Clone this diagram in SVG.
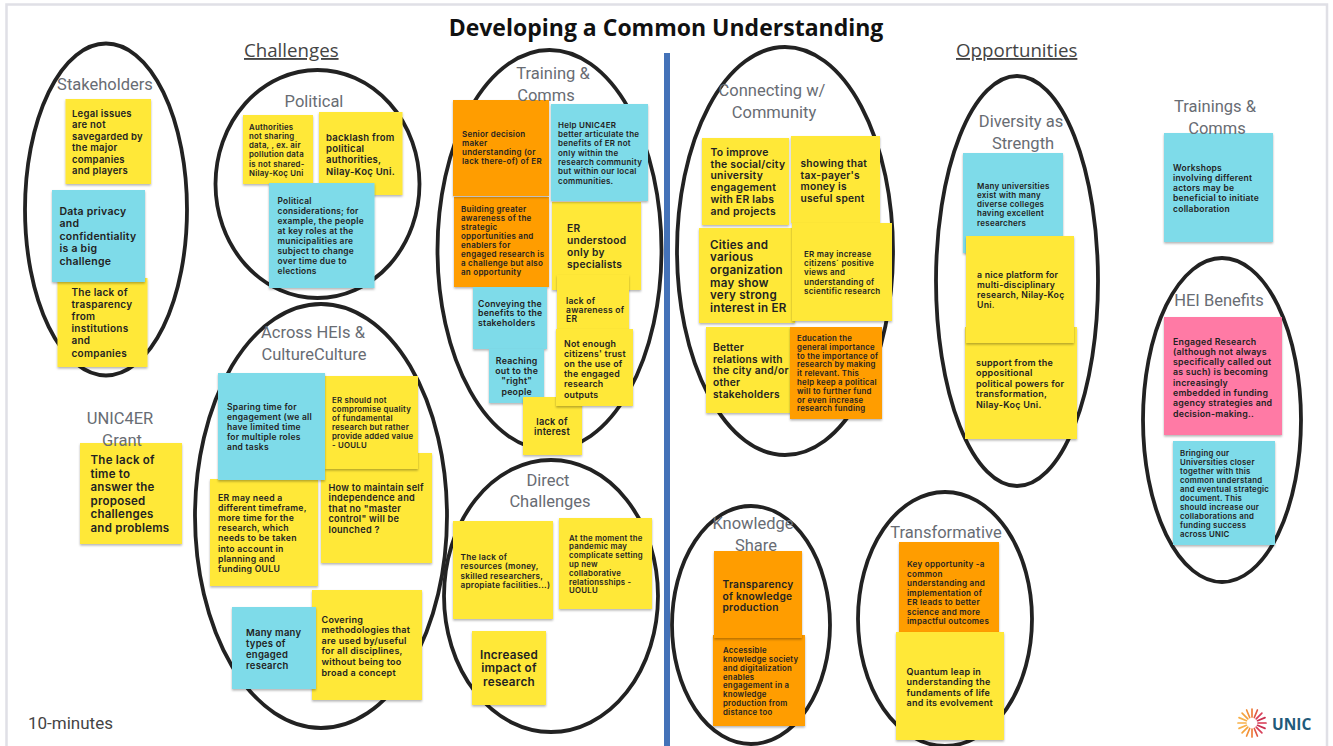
<svg xmlns="http://www.w3.org/2000/svg" width="1333" height="746" viewBox="0 0 1333 746">
<style>
.oval{fill:none;stroke:#222;stroke-width:3.8}
.y{fill:#ffe838;filter:url(#sh)}.b{fill:#7edbe9;filter:url(#sh)}.o{fill:#ff9d00;filter:url(#sh)}.p{fill:#ff7aa5;filter:url(#sh)}
.n{font-family:Inter,"Liberation Sans",sans-serif;font-weight:600;fill:#222;letter-spacing:.25px}
.l{font-family:Roboto,"Liberation Sans",sans-serif;font-size:16.500px;fill:#686c73;text-anchor:middle}
.h{font-family:"Open Sans","Liberation Sans",sans-serif;font-size:18.700px;fill:#444;text-decoration:underline}
.s{stroke-width:1.7;stroke-linecap:round}
</style>
<defs><filter id="sh" x="-10%" y="-10%" width="120%" height="120%"><feDropShadow dx="0" dy="1.5" stdDeviation="1.2" flood-color="#000" flood-opacity=".3"/></filter></defs>
<rect width="1333" height="746" fill="#fff"/>
<path d="M6.500 746V4.500H1327V746" fill="none" stroke="#e0e0e6" stroke-width="2.500"/>
<rect id="divider" x="664" y="53" width="6" height="693" fill="#4472b8"/>
<text id="title" x="666" y="36" text-anchor="middle" font-family="Open Sans,Liberation Sans,sans-serif" font-size="23" font-weight="700" fill="#111">Developing a Common Understanding</text>
<text id="challenges" class="h" x="244" y="57">Challenges</text>
<text id="opportunities" class="h" x="956" y="57">Opportunities</text>
<text id="timer" x="28" y="729" font-family="Roboto,Liberation Sans,sans-serif" font-size="17" fill="#444">10-minutes</text>
<g id="ovals">
<ellipse class="oval" cx="106" cy="209.500" rx="81" ry="166"/>
<ellipse class="oval" cx="317.500" cy="184" rx="102" ry="114"/>
<ellipse class="oval" cx="321" cy="516" rx="126" ry="212"/>
<ellipse class="oval" cx="549.500" cy="250" rx="112" ry="200"/>
<ellipse class="oval" cx="551" cy="596" rx="107" ry="136"/>
<ellipse class="oval" cx="785" cy="251" rx="108" ry="204"/>
<ellipse class="oval" cx="1017" cy="281" rx="81" ry="205"/>
<ellipse class="oval" cx="751" cy="625" rx="79" ry="119"/>
<ellipse class="oval" cx="945" cy="619" rx="87" ry="127"/>
<ellipse class="oval" cx="1222" cy="420" rx="79" ry="162"/>
</g>
<g id="note-s1"><rect class="y" x="65.500" y="99" width="85.500" height="85"/><text class="n" font-size="9.500" y="116.500"><tspan x="72">Legal issues</tspan><tspan x="72" dy="11.500">are not</tspan><tspan x="72" dy="11.500">savegarded by</tspan><tspan x="72" dy="11.500">the major</tspan><tspan x="72" dy="11.500">companies</tspan><tspan x="72" dy="11.500">and players</tspan></text></g>
<g id="note-s3"><rect class="y" x="57.500" y="278" width="90" height="89"/><text class="n" font-size="10" y="296"><tspan x="71.500">The lack of</tspan><tspan x="71.500" dy="12.100">trasparency</tspan><tspan x="71.500" dy="12.100">from</tspan><tspan x="71.500" dy="12.100">institutions</tspan><tspan x="71.500" dy="12.100">and</tspan><tspan x="71.500" dy="12.100">companies</tspan></text></g>
<g id="note-s2"><rect class="b" x="52" y="190" width="93" height="92"/><text class="n" font-size="10.500" y="215"><tspan x="59.500">Data privacy</tspan><tspan x="59.500" dy="12.400">and</tspan><tspan x="59.500" dy="12.400">confidentiality</tspan><tspan x="59.500" dy="12.400">is a big</tspan><tspan x="59.500" dy="12.400">challenge</tspan></text></g>
<g id="note-p2"><rect class="y" x="319" y="112" width="83.500" height="83"/><text class="n" font-size="9.500" y="141"><tspan x="326">backlash from</tspan><tspan x="326" dy="11.200">political</tspan><tspan x="326" dy="11.200">authorities,</tspan><tspan x="326" dy="11.200">Nilay-Koç Uni.</tspan></text></g>
<g id="note-p1"><rect class="y" x="243" y="115" width="70" height="69"/><text class="n" font-size="7.800" y="129.500"><tspan x="249">Authorities</tspan><tspan x="249" dy="9.300">not sharing</tspan><tspan x="249" dy="9.300">data, , ex.  air</tspan><tspan x="249" dy="9.300">pollution data</tspan><tspan x="249" dy="9.300">is not shared-</tspan><tspan x="249" dy="9.300">Nilay-Koç Uni</tspan></text></g>
<g id="note-p3"><rect class="b" x="269" y="183" width="105.500" height="105"/><text class="n" font-size="8.400" y="203.500"><tspan x="277.500">Political</tspan><tspan x="277.500" dy="10.100">considerations; for</tspan><tspan x="277.500" dy="10.100">example, the people</tspan><tspan x="277.500" dy="10.100">at key roles at the</tspan><tspan x="277.500" dy="10.100">municipalities are</tspan><tspan x="277.500" dy="10.100">subject to change</tspan><tspan x="277.500" dy="10.100">over time due to</tspan><tspan x="277.500" dy="10.100">elections</tspan></text></g>
<g id="note-a3"><rect class="y" x="321" y="453" width="111" height="110"/><text class="n" font-size="9.200" y="490.500"><tspan x="328.500">How to maintain self</tspan><tspan x="328.500" dy="10.500">independence and</tspan><tspan x="328.500" dy="10.500">that no "master</tspan><tspan x="328.500" dy="10.500">control" will be</tspan><tspan x="328.500" dy="10.500">lounched ?</tspan></text></g>
<g id="note-a2"><rect class="y" x="325" y="376" width="93" height="93"/><text class="n" font-size="7.800" y="403"><tspan x="332">ER should not</tspan><tspan x="332" dy="9">compromise quality</tspan><tspan x="332" dy="9">of fundamental</tspan><tspan x="332" dy="9">research but rather</tspan><tspan x="332" dy="9">provide added value</tspan><tspan x="332" dy="9">- UOULU</tspan></text></g>
<g id="note-a4"><rect class="y" x="210" y="479" width="108" height="107"/><text class="n" font-size="8.700" y="500.500"><tspan x="218">ER may need a</tspan><tspan x="218" dy="10.200">different timeframe,</tspan><tspan x="218" dy="10.200">more time for the</tspan><tspan x="218" dy="10.200">research, which</tspan><tspan x="218" dy="10.200">needs to be taken</tspan><tspan x="218" dy="10.200">into account in</tspan><tspan x="218" dy="10.200">planning and</tspan><tspan x="218" dy="10.200">funding OULU</tspan></text></g>
<g id="note-a1"><rect class="b" x="218" y="373" width="107" height="107"/><text class="n" font-size="8.500" y="409.500"><tspan x="227">Sparing time for</tspan><tspan x="227" dy="10.200">engagement (we all</tspan><tspan x="227" dy="10.200">have limited time</tspan><tspan x="227" dy="10.200">for multiple roles</tspan><tspan x="227" dy="10.200">and tasks</tspan></text></g>
<g id="note-a6"><rect class="y" x="312" y="590" width="110" height="110"/><text class="n" font-size="9" y="622.500"><tspan x="321.500">Covering</tspan><tspan x="321.500" dy="10.600">methodologies that</tspan><tspan x="321.500" dy="10.600">are used by/useful</tspan><tspan x="321.500" dy="10.600">for all disciplines,</tspan><tspan x="321.500" dy="10.600">without being too</tspan><tspan x="321.500" dy="10.600">broad a concept</tspan></text></g>
<g id="note-a5"><rect class="b" x="232" y="607" width="84" height="82"/><text class="n" font-size="9.500" y="635.500"><tspan x="246">Many many</tspan><tspan x="246" dy="11">types of</tspan><tspan x="246" dy="11">engaged</tspan><tspan x="246" dy="11">research</tspan></text></g>
<g id="note-t4"><rect class="y" x="552" y="202" width="89" height="88"/><text class="n" font-size="10.200" y="232"><tspan x="567">ER</tspan><tspan x="567" dy="12">understood</tspan><tspan x="567" dy="12">only by</tspan><tspan x="567" dy="12">specialists</tspan></text></g>
<g id="note-t2"><rect class="b" x="551" y="104" width="97" height="97"/><text class="n" font-size="8" y="127.500"><tspan x="558">Help UNIC4ER</tspan><tspan x="558" dy="9.350">better articulate the</tspan><tspan x="558" dy="9.350">benefits of ER not</tspan><tspan x="558" dy="9.350">only within the</tspan><tspan x="558" dy="9.350">research community</tspan><tspan x="558" dy="9.350">but within our local</tspan><tspan x="558" dy="9.350">communities.</tspan></text></g>
<g id="note-t3"><rect class="o" x="454" y="197" width="95" height="90"/><text class="n" font-size="8" y="211.500"><tspan x="461">Building greater</tspan><tspan x="461" dy="9.100">awareness of the</tspan><tspan x="461" dy="9.100">strategic</tspan><tspan x="461" dy="9.100">opportunities and</tspan><tspan x="461" dy="9.100">enablers for</tspan><tspan x="461" dy="9.100">engaged research is</tspan><tspan x="461" dy="9.100">a challenge but also</tspan><tspan x="461" dy="9.100">an opportunity</tspan></text></g>
<g id="note-t1"><rect class="o" x="453" y="100" width="96" height="96"/><text class="n" font-size="8" y="137"><tspan x="462">Senior decision</tspan><tspan x="462" dy="9.100">maker</tspan><tspan x="462" dy="9.100">understanding (or</tspan><tspan x="462" dy="9.100">lack there-of) of ER</tspan></text></g>
<g id="note-t5"><rect class="b" x="473" y="287" width="74" height="62"/><text class="n" font-size="8.700" y="306.500"><tspan x="478">Conveying the</tspan><tspan x="478" dy="9.800">benefits to the</tspan><tspan x="478" dy="9.800">stakeholders</tspan></text></g>
<g id="note-t6"><rect class="y" x="557" y="275" width="72" height="55"/><text class="n" font-size="8.500" y="304"><tspan x="566">lack of</tspan><tspan x="566" dy="9.200">awareness of</tspan><tspan x="566" dy="9.200">ER</tspan></text></g>
<g id="note-t7"><rect class="b" x="489" y="349" width="55" height="54"/><text class="n" font-size="8.800" y="363.500" text-anchor="middle"><tspan x="516.700">Reaching</tspan><tspan x="516.700" dy="10.400">out to the</tspan><tspan x="516.700" dy="10.400">"right"</tspan><tspan x="516.700" dy="10.400">people</tspan></text></g>
<g id="note-t9"><rect class="y" x="523" y="397" width="59" height="58"/><text class="n" font-size="9.200" y="424.500" text-anchor="middle"><tspan x="552">lack of</tspan><tspan x="552" dy="10.700">interest</tspan></text></g>
<g id="note-t8"><rect class="y" x="556" y="329" width="77" height="77"/><text class="n" font-size="8.800" y="346.500"><tspan x="564">Not enough</tspan><tspan x="564" dy="10.200">citizens' trust</tspan><tspan x="564" dy="10.200">on the use of</tspan><tspan x="564" dy="10.200">the engaged</tspan><tspan x="564" dy="10.200">research</tspan><tspan x="564" dy="10.200">outputs</tspan></text></g>
<g id="note-d1"><rect class="y" x="453" y="521" width="100" height="98"/><text class="n" font-size="8.200" y="559.500"><tspan x="460.500">The lack of</tspan><tspan x="460.500" dy="9.500">resources (money,</tspan><tspan x="460.500" dy="9.500">skilled researchers,</tspan><tspan x="460.500" dy="9.500">apropiate facilities...)</tspan></text></g>
<g id="note-d2"><rect class="y" x="559" y="518" width="93" height="91"/><text class="n" font-size="7.800" y="540.500"><tspan x="569">At the moment the</tspan><tspan x="569" dy="8.800">pandemic may</tspan><tspan x="569" dy="8.800">complicate setting</tspan><tspan x="569" dy="8.800">up new</tspan><tspan x="569" dy="8.800">collaborative</tspan><tspan x="569" dy="8.800">relationsships -</tspan><tspan x="569" dy="8.800">UOULU</tspan></text></g>
<g id="note-d3"><rect class="y" x="472" y="631" width="74" height="74"/><text class="n" font-size="11.700" y="658.500" text-anchor="middle"><tspan x="509">Increased</tspan><tspan x="509" dy="13.800">impact of</tspan><tspan x="509" dy="13.800">research</tspan></text></g>
<g id="note-c2"><rect class="y" x="791" y="136" width="89" height="87"/><text class="n" font-size="10.200" y="167"><tspan x="800.500">showing that</tspan><tspan x="800.500" dy="11.700">tax-payer's</tspan><tspan x="800.500" dy="11.700">money is</tspan><tspan x="800.500" dy="11.700">useful spent</tspan></text></g>
<g id="note-c1"><rect class="y" x="702" y="138" width="87" height="87"/><text class="n" font-size="10.400" y="156"><tspan x="710.500">To improve</tspan><tspan x="710.500" dy="11.700">the social/city</tspan><tspan x="710.500" dy="11.700">university</tspan><tspan x="710.500" dy="11.700">engagement</tspan><tspan x="710.500" dy="11.700">with ER labs</tspan><tspan x="710.500" dy="11.700">and projects</tspan></text></g>
<g id="note-c3"><rect class="y" x="699" y="228" width="96" height="95"/><text class="n" font-size="11.600" y="248.500"><tspan x="710">Cities and</tspan><tspan x="710" dy="12.700">various</tspan><tspan x="710" dy="12.700">organization</tspan><tspan x="710" dy="12.700">may show</tspan><tspan x="710" dy="12.700">very strong</tspan><tspan x="710" dy="12.700">interest in ER</tspan></text></g>
<g id="note-c4"><rect class="y" x="792" y="223" width="100" height="98"/><text class="n" font-size="8" y="256.500"><tspan x="804">ER may increase</tspan><tspan x="804" dy="9.400">citizens´ positive</tspan><tspan x="804" dy="9.400">views and</tspan><tspan x="804" dy="9.400">understanding of</tspan><tspan x="804" dy="9.400">scientific research</tspan></text></g>
<g id="note-c5"><rect class="y" x="706" y="327" width="86" height="86"/><text class="n" font-size="10.200" y="351"><tspan x="713">Better</tspan><tspan x="713" dy="11.700">relations with</tspan><tspan x="713" dy="11.700">the city and/or</tspan><tspan x="713" dy="11.700">other</tspan><tspan x="713" dy="11.700">stakeholders</tspan></text></g>
<g id="note-c6"><rect class="o" x="790" y="327" width="92" height="92"/><text class="n" font-size="7.800" y="341"><tspan x="797">Education the</tspan><tspan x="797" dy="8.800">general importance</tspan><tspan x="797" dy="8.800">to the importance of</tspan><tspan x="797" dy="8.800">research by making</tspan><tspan x="797" dy="8.800">it relevant.  This</tspan><tspan x="797" dy="8.800">help keep a political</tspan><tspan x="797" dy="8.800">will to further fund</tspan><tspan x="797" dy="8.800">or even increase</tspan><tspan x="797" dy="8.800">research funding</tspan></text></g>
<g id="note-v1"><rect class="b" x="963" y="153" width="100" height="100"/><text class="n" font-size="8" y="188.500"><tspan x="977">Many universities</tspan><tspan x="977" dy="9.300">exist with many</tspan><tspan x="977" dy="9.300">diverse colleges</tspan><tspan x="977" dy="9.300">having excellent</tspan><tspan x="977" dy="9.300">researchers</tspan></text></g>
<g id="note-v3"><rect class="y" x="965" y="327" width="112" height="112"/><text class="n" font-size="9" y="365.500"><tspan x="976">support from the</tspan><tspan x="976" dy="10.600">oppositional</tspan><tspan x="976" dy="10.600">political powers for</tspan><tspan x="976" dy="10.600">transformation,</tspan><tspan x="976" dy="10.600">Nilay-Koç Uni.</tspan></text></g>
<g id="note-v2"><rect class="y" x="966" y="236" width="108" height="107"/><text class="n" font-size="8.700" y="277.500"><tspan x="977">a nice platform for</tspan><tspan x="977" dy="10.200">multi-disciplinary</tspan><tspan x="977" dy="10.200">research, Nilay-Koç</tspan><tspan x="977" dy="10.200">Uni.</tspan></text></g>
<g id="note-w1"><rect class="b" x="1164" y="133" width="109" height="109"/><text class="n" font-size="8.500" y="170.500"><tspan x="1173">Workshops</tspan><tspan x="1173" dy="10.300">involving different</tspan><tspan x="1173" dy="10.300">actors may be</tspan><tspan x="1173" dy="10.300">beneficial to initiate</tspan><tspan x="1173" dy="10.300">collaboration</tspan></text></g>
<g id="note-h1"><rect class="p" x="1164" y="317" width="118" height="118"/><text class="n" font-size="8.800" y="344.500"><tspan x="1173">Engaged Research</tspan><tspan x="1173" dy="10.300">(although not always</tspan><tspan x="1173" dy="10.300">specifically called out</tspan><tspan x="1173" dy="10.300">as such) is becoming</tspan><tspan x="1173" dy="10.300">increasingly</tspan><tspan x="1173" dy="10.300">embedded in funding</tspan><tspan x="1173" dy="10.300">agency strategies and</tspan><tspan x="1173" dy="10.300">decision-making..</tspan></text></g>
<g id="note-h2"><rect class="b" x="1173" y="441" width="102" height="104"/><text class="n" font-size="7.800" y="455.500"><tspan x="1180">Bringing our</tspan><tspan x="1180" dy="9">Universities closer</tspan><tspan x="1180" dy="9">together with this</tspan><tspan x="1180" dy="9">common understand</tspan><tspan x="1180" dy="9">and eventual strategic</tspan><tspan x="1180" dy="9">document.  This</tspan><tspan x="1180" dy="9">should increase our</tspan><tspan x="1180" dy="9">collaborations and</tspan><tspan x="1180" dy="9">funding success</tspan><tspan x="1180" dy="9">across UNIC</tspan></text></g>
<g id="note-g1"><rect class="y" x="80" y="443" width="102" height="101"/><text class="n" font-size="11.500" y="464"><tspan x="90.500">The lack of</tspan><tspan x="90.500" dy="13.500">time to</tspan><tspan x="90.500" dy="13.500">answer the</tspan><tspan x="90.500" dy="13.500">proposed</tspan><tspan x="90.500" dy="13.500">challenges</tspan><tspan x="90.500" dy="13.500">and problems</tspan></text></g>
<g id="note-k2"><rect class="o" x="713" y="635" width="92" height="91"/><text class="n" font-size="7.800" y="653"><tspan x="723">Accessible</tspan><tspan x="723" dy="8.850">knowledge society</tspan><tspan x="723" dy="8.850">and digitalization</tspan><tspan x="723" dy="8.850">enables</tspan><tspan x="723" dy="8.850">engagement in a</tspan><tspan x="723" dy="8.850">knowledge</tspan><tspan x="723" dy="8.850">production from</tspan><tspan x="723" dy="8.850">distance too</tspan></text></g>
<g id="note-k1"><rect class="o" x="714" y="551" width="88" height="87"/><text class="n" font-size="10.200" y="588"><tspan x="722.500">Transparency</tspan><tspan x="722.500" dy="11.500">of knowledge</tspan><tspan x="722.500" dy="11.500">production</tspan></text></g>
<g id="note-x1"><rect class="o" x="899" y="542" width="100" height="90"/><text class="n" font-size="8.100" y="567"><tspan x="907">Key opportunity -a</tspan><tspan x="907" dy="9.550">common</tspan><tspan x="907" dy="9.550">understanding and</tspan><tspan x="907" dy="9.550">implementation of</tspan><tspan x="907" dy="9.550">ER  leads to better</tspan><tspan x="907" dy="9.550">science and more</tspan><tspan x="907" dy="9.550">impactful outcomes</tspan></text></g>
<g id="note-x2"><rect class="y" x="896" y="632" width="108" height="108"/><text class="n" font-size="9" y="675"><tspan x="906.500">Quantum leap in</tspan><tspan x="906.500" dy="10.300">understanding the</tspan><tspan x="906.500" dy="10.300">fundaments of life</tspan><tspan x="906.500" dy="10.300">and its evolvement</tspan></text></g>
<g id="labels">
<text class="l" x="105" y="90">Stakeholders</text>
<text class="l" x="314" y="107">Political</text>
<text class="l" x="313" y="338">Across HEIs &amp;</text>
<text class="l" x="314" y="360">CultureCulture</text>
<text class="l" x="553" y="79">Training &amp;</text>
<text class="l" x="546" y="101">Comms</text>
<text class="l" x="548" y="486">Direct</text>
<text class="l" x="550" y="507">Challenges</text>
<text class="l" x="772" y="96">Connecting w/</text>
<text class="l" x="774" y="118">Community</text>
<text class="l" x="1021" y="127">Diversity as</text>
<text class="l" x="1023" y="149">Strength</text>
<text class="l" x="1215" y="112">Trainings &amp;</text>
<text class="l" x="1217" y="134">Comms</text>
<text class="l" x="1219" y="306">HEI Benefits</text>
<text class="l" x="753" y="529">Knowledge</text>
<text class="l" x="756" y="551">Share</text>
<text class="l" x="946" y="538">Transformative</text>
<text class="l" x="120" y="424">UNIC4ER</text>
<text class="l" x="122" y="446">Grant</text>
</g>
<g id="logo">
<g class="s">
<path stroke="#d8344f" d="M1258 723H1266"/><path stroke="#c9304f" d="M1257.500 720.700L1265 717.600"/><path stroke="#c9304f" d="M1257.500 725.300L1265 728.400"/>
<path stroke="#d8405a" d="M1256.200 718.800L1261.900 713.100"/><path stroke="#d8405a" d="M1256.200 727.200L1261.900 732.900"/>
<path stroke="#e05a45" d="M1254.300 717.500L1257.400 710"/><path stroke="#e05a45" d="M1254.300 728.500L1257.400 736"/>
<path stroke="#ee7d3c" d="M1252 717V709"/><path stroke="#ee7d3c" d="M1252 729V737"/>
<path stroke="#f2913a" d="M1249.700 717.500L1246.600 710"/><path stroke="#f2913a" d="M1249.700 728.500L1246.600 736"/>
<path stroke="#f5a33c" d="M1247.800 718.800L1242.100 713.100"/><path stroke="#f5a33c" d="M1247.800 727.200L1242.100 732.900"/>
<path stroke="#f7b14a" d="M1246.500 720.700L1239 717.600"/><path stroke="#f7b14a" d="M1246.500 725.300L1239 728.400"/>
<path stroke="#f7b14a" d="M1246 723H1238"/>
</g>
<text x="1272" y="730" font-family="Open Sans,Liberation Sans,sans-serif" font-size="15.500" font-weight="700" fill="#1f5a7a">UNIC</text>
</g>
</svg>
